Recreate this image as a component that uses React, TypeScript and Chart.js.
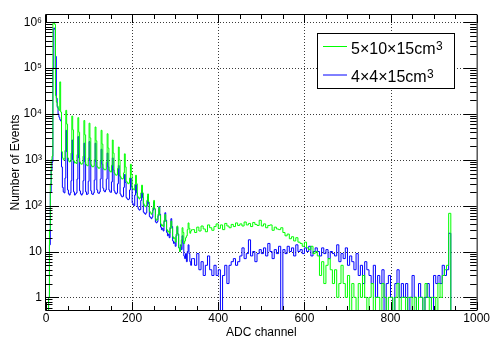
import React, { useEffect, useRef } from "react";
import { Chart, registerables } from "chart.js";

Chart.register(...registerables);

const FONT = '"Liberation Sans", Arial, Helvetica, sans-serif';

const seriesNames = ["5×10×15cm³", "4×4×15cm³"];
const seriesColors = ["#00ff00", "#0000ff"];

// fine binning 0–340 ADC (2 channels per bin), coarse binning 340–1000 ADC (5 channels per bin)
const fineStart = 0;
const fineWidth = 2;
const coarseStart = 340;
const coarseWidth = 5;

const xMin = 0;
const xMax = 1000;
const yMin = 0.53;
const yMax = 1.44e6;

const xTickValues = [0, 200, 400, 600, 800, 1000];
const xGridValues = [200, 400, 600, 800];
const xMinorStep = 50;
const yTickValues = [1, 10, 100, 1000, 10000, 100000, 1000000];
const yTickLabels = ["1", "10", "10²", "10³", "10⁴", "10⁵", "10⁶"];

const greenFine = [
  0, 0, 0, 1, 30, 300, 1000, 1200, 950000, 1000000,
  900000, 25000, 18000, 15000, 13000, 12000, 50000, 11000, 1500, 1100,
  1000, 1050, 1600, 12000, 6000, 1100, 950, 900, 920, 1400,
  9000, 4500, 950, 850, 880, 830, 1300, 8300, 4000, 900,
  820, 800, 850, 1200, 7200, 3500, 800, 760, 740, 1100,
  6300, 3000, 780, 720, 700, 730, 1000, 5200, 2600, 720,
  680, 650, 670, 950, 4400, 2200, 660, 620, 600, 620,
  880, 3700, 1800, 600, 560, 540, 760, 2700, 1400, 520,
  480, 460, 470, 650, 1900, 1000, 430, 400, 380, 390,
  520, 1350, 700, 340, 320, 300, 310, 400, 800, 480,
  240, 230, 220, 290, 460, 300, 160, 150, 140, 150,
  190, 280, 190, 110, 100, 95, 100, 130, 180, 120,
  75, 70, 65, 70, 90, 130, 85, 52, 48, 50,
  65, 92, 62, 40, 36, 38, 35, 48, 64, 45,
  30, 27, 28, 25, 34, 46, 32, 21, 19, 20,
  16, 24, 36, 24, 12, 10, 13, 18, 33, 26,
  15, 17, 20, 22, 30, 42, 32, 25, 28, 30,
];

const blueFine = [
  0, 0, 0, 1, 14, 200, 600, 900, 100000, 750000,
  700000, 180000, 22000, 14000, 10000, 8500, 7500, 7000, 700, 250,
  200, 190, 400, 4400, 1500, 220, 180, 170, 190, 350,
  2700, 1000, 200, 170, 180, 190, 380, 3200, 1100, 210,
  180, 170, 185, 350, 2300, 900, 200, 175, 180, 340,
  2500, 950, 210, 180, 175, 190, 360, 2300, 900, 220,
  190, 185, 200, 380, 1700, 800, 240, 210, 200, 220,
  380, 1400, 700, 220, 200, 195, 330, 1100, 600, 210,
  190, 180, 190, 300, 750, 450, 180, 165, 155, 160,
  250, 480, 320, 150, 140, 135, 140, 220, 400, 260,
  115, 105, 100, 170, 290, 190, 95, 85, 80, 82,
  130, 220, 150, 72, 68, 65, 70, 100, 160, 110,
  58, 55, 52, 56, 80, 120, 85, 44, 42, 45,
  60, 95, 65, 34, 30, 32, 28, 45, 70, 48,
  26, 22, 24, 20, 32, 52, 35, 17, 15, 16,
  13, 22, 34, 24, 12, 10, 14, 11, 22, 15,
  8, 7, 9, 6, 10, 14, 9, 6, 5, 7,
];

const greenCoarse = [
  30, 26, 34, 28, 36, 31, 27, 38, 33, 29, 35, 40,
  32, 38, 30, 41, 36, 33, 39, 35, 42, 37,
  40, 36, 44, 38, 41, 35, 43, 39, 37, 48,
  36, 40, 33, 37, 38, 29, 34, 31, 30, 33,
  26, 22, 24, 19, 21, 17, 20, 16,
  15, 13, 16, 12, 11, 13, 9, 10,
  8, 3, 6, 2, 5, 7, 4, 2,
  4, 1, 2, 5, 2, 1, 3, 0,
  2, 1, 0, 2, 1, 3, 1, 0,
  1, 2, 0, 1, 1, 0, 2, 1,
  0, 1, 1, 0, 1, 2, 0, 1,
  1, 0, 1, 1, 0, 1, 0, 1,
  1, 0, 2, 1, 0, 1, 1, 0,
  2, 1, 3, 4, 5, 68,
  0, 0, 0, 0, 0, 0, 0, 0, 0, 0, 0, 0,
];

const blueCoarse = [
  7, 5, 9, 4, 6, 3, 5, 8, 4, 3, 5, 3,
  4, 0, 3, 5, 2, 5, 6, 7, 5, 6,
  8, 12, 7, 9, 18, 8, 10, 6, 9, 11,
  9, 12, 8, 15, 10, 7, 11, 9, 13, 0,
  11, 9, 13, 10, 12, 8, 14, 10,
  11, 9, 12, 10, 13, 8, 10, 12,
  10, 8, 12, 9, 11, 7, 10, 9,
  8, 14, 6, 9, 7, 12, 5, 8,
  6, 4, 9, 3, 5, 2, 6, 4,
  3, 2, 5, 1, 3, 2, 4, 0,
  2, 3, 1, 0, 2, 4, 1, 2,
  1, 2, 0, 1, 3, 1, 0, 2,
  1, 0, 1, 2, 1, 0, 3, 2,
  3, 2, 5, 3, 4, 25,
  0, 0, 0, 0, 0, 0, 0, 0, 0, 0, 0, 0,
];

// empty bins are sent below the log axis floor so the outline drops to the frame, as ROOT does
const EMPTY_BIN = 0.05;

function buildSeries(fine: number[], coarse: number[]) {
  const pts: { x: number; y: number }[] = [];
  fine.forEach((v, i) => pts.push({ x: fineStart + i * fineWidth, y: v }));
  coarse.forEach((v, i) => pts.push({ x: coarseStart + i * coarseWidth, y: v }));
  pts.push({ x: coarseStart + coarse.length * coarseWidth, y: coarse[coarse.length - 1] });
  return pts.map((p) => ({ x: p.x, y: p.y > 0 ? p.y : EMPTY_BIN }));
}

const rootStyle = {
  id: "rootStyle",
  beforeDatasetsDraw(chart: any) {
    const { ctx, chartArea: a } = chart;
    const xs = chart.scales.x;
    const ys = chart.scales.y;
    ctx.save();
    ctx.strokeStyle = "#3a3a3a";
    ctx.lineWidth = 1;
    ctx.setLineDash([1, 2]);
    ctx.beginPath();
    for (const v of xGridValues) {
      const px = Math.round(xs.getPixelForValue(v)) + 0.5;
      ctx.moveTo(px, a.top);
      ctx.lineTo(px, a.bottom);
    }
    for (const v of yTickValues) {
      const py = Math.round(ys.getPixelForValue(v)) + 0.5;
      ctx.moveTo(a.left, py);
      ctx.lineTo(a.right, py);
    }
    ctx.stroke();
    ctx.restore();
  },
  afterDatasetsDraw(chart: any) {
    const { ctx, chartArea: a } = chart;
    const xs = chart.scales.x;
    const ys = chart.scales.y;
    ctx.save();
    ctx.strokeStyle = "#000";
    ctx.lineWidth = 1;
    ctx.setLineDash([]);
    ctx.beginPath();
    for (let v = xMin; v <= xMax + 1e-6; v += xMinorStep) {
      const len = v % 200 === 0 ? 8 : 4;
      const px = Math.round(xs.getPixelForValue(v)) + 0.5;
      ctx.moveTo(px, a.bottom);
      ctx.lineTo(px, a.bottom - len);
      ctx.moveTo(px, a.top);
      ctx.lineTo(px, a.top + len);
    }
    for (let e = -1; e <= 6; e++) {
      for (let m = 1; m <= 9; m++) {
        const v = m * Math.pow(10, e);
        if (v < yMin || v > yMax) continue;
        const len = m === 1 ? 13 : 6.5;
        const py = Math.round(ys.getPixelForValue(v)) + 0.5;
        ctx.moveTo(a.left, py);
        ctx.lineTo(a.left + len, py);
        ctx.moveTo(a.right, py);
        ctx.lineTo(a.right - len, py);
      }
    }
    ctx.stroke();
    ctx.beginPath();
    ctx.moveTo(a.left - 0.5, a.top - 0.5);
    ctx.lineTo(a.right + 0.5, a.top - 0.5);
    ctx.lineTo(a.right + 0.5, a.bottom + 0.5);
    ctx.lineTo(a.left - 0.5, a.bottom + 0.5);
    ctx.closePath();
    ctx.stroke();
    ctx.restore();
  },
  afterDraw(chart: any) {
    const { ctx } = chart;
    const box = { left: 318, top: 33, width: 136, height: 55 };
    ctx.save();
    ctx.fillStyle = "#fff";
    ctx.fillRect(box.left, box.top, box.width, box.height);
    ctx.strokeStyle = "#000";
    ctx.lineWidth = 1;
    ctx.strokeRect(box.left - 0.5, box.top + 0.5, box.width + 1, box.height);
    const rows = [46.5, 75];
    const baselines = [53.5, 81.5];
    chart.data.datasets.forEach((ds: any, i: number) => {
      ctx.strokeStyle = ds.borderColor;
      ctx.beginPath();
      ctx.moveTo(323, rows[i]);
      ctx.lineTo(347, rows[i]);
      ctx.stroke();
      const text: string = ds.label;
      const sup = text.endsWith("³");
      const base = sup ? text.slice(0, -1) : text;
      ctx.fillStyle = "#000";
      ctx.textBaseline = "alphabetic";
      ctx.textAlign = "left";
      ctx.font = `16px ${FONT}`;
      ctx.fillText(base, 351, baselines[i]);
      if (sup) {
        const w = ctx.measureText(base).width;
        ctx.font = `12px ${FONT}`;
        ctx.fillText("3", 351 + w + 0.5, baselines[i] - 4);
      }
    });
    ctx.restore();
  },
};

export default function App() {
  const canvasRef = useRef<HTMLCanvasElement | null>(null);

  useEffect(() => {
    if (!canvasRef.current) return;
    Chart.defaults.font.family = FONT;
    Chart.defaults.color = "#000";
    const chart = new Chart(canvasRef.current, {
      type: "line",
      data: {
        datasets: [
          {
            label: seriesNames[0],
            data: buildSeries(greenFine, greenCoarse),
            borderColor: seriesColors[0],
            backgroundColor: seriesColors[0],
            borderWidth: 1,
            pointRadius: 0,
            stepped: "before",
            fill: false,
            clip: 0,
          },
          {
            label: seriesNames[1],
            data: buildSeries(blueFine, blueCoarse),
            borderColor: seriesColors[1],
            backgroundColor: seriesColors[1],
            borderWidth: 1,
            pointRadius: 0,
            stepped: "before",
            fill: false,
            clip: 0,
          },
        ],
      },
      options: {
        animation: false,
        responsive: false,
        devicePixelRatio: 1,
        events: [],
        layout: { padding: { left: 0, right: 12, top: 15, bottom: 0 }, autoPadding: false },
        plugins: {
          legend: { display: false },
          tooltip: { enabled: false },
        },
        scales: {
          x: {
            type: "linear",
            min: xMin,
            max: xMax,
            grid: { display: false, drawTicks: false },
            border: { display: false },
            afterBuildTicks: (s: any) => {
              s.ticks = xTickValues.map((v) => ({ value: v }));
            },
            afterFit: (s: any) => {
              s.height = 28;
            },
            ticks: {
              autoSkip: false,
              maxRotation: 0,
              padding: 3,
              font: { size: 12, lineHeight: 1 },
              color: "#000",
              callback: (v: any) => String(v),
            },
            title: {
              display: true,
              text: "ADC channel",
              font: { size: 12, lineHeight: 1 },
              color: "#000",
              padding: { top: 0, bottom: -1 },
            },
          },
          y: {
            type: "logarithmic",
            min: yMin,
            max: yMax,
            grid: { display: false, drawTicks: false },
            border: { display: false },
            afterBuildTicks: (s: any) => {
              s.ticks = yTickValues.map((v) => ({ value: v }));
            },
            afterFit: (s: any) => {
              s.width = 46;
            },
            ticks: {
              autoSkip: false,
              padding: 4,
              font: { size: 12 },
              color: "#000",
              callback: (v: any) => {
                const i = yTickValues.indexOf(Number(v));
                return i >= 0 ? yTickLabels[i] : "";
              },
            },
            title: {
              display: true,
              text: "Number of Events",
              font: { size: 12, lineHeight: 1 },
              color: "#000",
              padding: { top: 10, bottom: 0 },
            },
          },
        },
      },
      plugins: [rootStyle],
    } as any);
    return () => chart.destroy();
  }, []);

  return (
    <div style={{ position: "fixed", left: 0, top: 0, width: 493, height: 338, background: "#fff" }}>
      <canvas ref={canvasRef} width={493} height={338} style={{ display: "block" }} />
    </div>
  );
}
